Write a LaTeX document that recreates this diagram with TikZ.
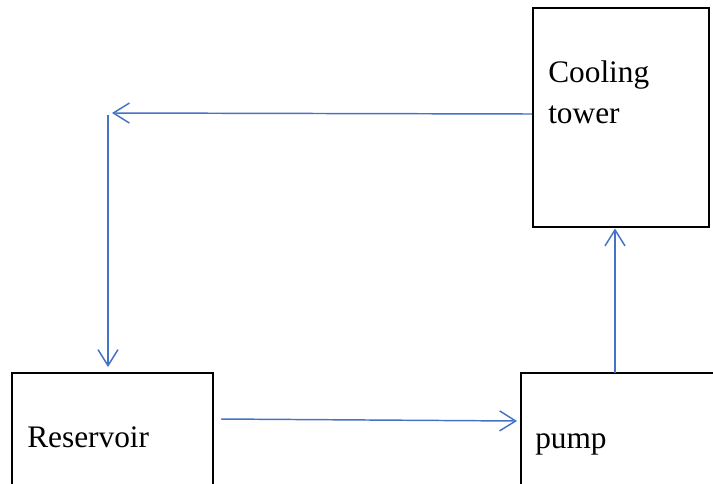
\documentclass[tikz,border=0pt]{standalone}
\usepackage{fontspec}
\setmainfont{Liberation Serif}
\usetikzlibrary{arrows.meta}
\definecolor{flow}{HTML}{4472C4}
\tikzset{
  box/.style={draw=black, line width=1.5pt, rectangle, inner sep=0pt},
  lbl/.style={anchor=base west, inner sep=0pt, font=\fontsize{23.5}{30.75}\selectfont, align=left},
  flowline/.style={draw=flow, line width=1.1pt, -{Straight Barb[length=12pt,width=15pt,line width=1.1pt]}},
}
\begin{document}
\begin{tikzpicture}[x=0.75pt,y=-0.75pt]
\useasboundingbox (0,0) rectangle (713,483);
% boxes
\node[box, minimum width=132pt, minimum height=164.25pt] (ct) at (621,117.5) {};
\node[box, minimum width=150.75pt, minimum height=120pt] (res) at (112.5,453) {};
\node[box, minimum width=180pt, minimum height=120pt] (pump) at (641,453) {};
% labels
\node[lbl] (ctl) at (548,123) {Cooling\\tower};
\node[lbl] (resl) at (27,447) {Reservoir};
\node[lbl] (pumpl) at (535,448) {pump};
% coordinates
\coordinate (c1) at (112,113);
\coordinate (c2) at (108,115);
\coordinate (c3) at (108,367);
\coordinate (c4) at (221,419);
\coordinate (c5) at (517,421);
\coordinate (c6) at (615,373);
\coordinate (c7) at (615,228.5);
% connectors
\draw[flowline] (ct.west |- 0,114) -- (c1);
\draw[flowline] (c2) -- (c3);
\draw[flowline] (c4) -- (c5);
\draw[flowline] (c6) -- (c7);
\end{tikzpicture}
\end{document}
